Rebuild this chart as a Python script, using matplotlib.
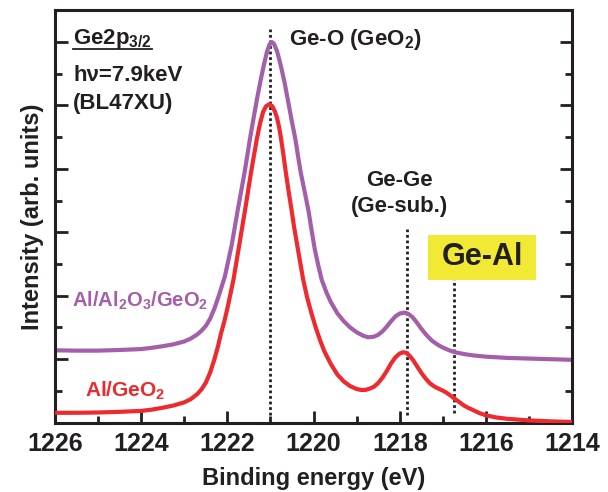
import matplotlib
matplotlib.use("Agg")
import matplotlib.pyplot as plt
from matplotlib.ticker import MultipleLocator
from matplotlib.patches import Rectangle

plt.rcParams['font.family'] = ['Liberation Sans', 'DejaVu Sans']
plt.rcParams['font.weight'] = 'bold'
plt.rcParams['axes.labelweight'] = 'bold'
plt.rcParams['mathtext.fontset'] = 'custom'
plt.rcParams['mathtext.rm'] = 'Liberation Sans:bold'
plt.rcParams['mathtext.default'] = 'rm'

# Al/Al2O3/GeO2 (purple) spectrum
e_purple = [1226.0, 1225.5, 1225.0, 1224.5, 1224.0, 1223.75, 1223.5, 1223.25, 1223.0,
            1222.85, 1222.7, 1222.6, 1222.5, 1222.4, 1222.3, 1222.2, 1222.13, 1222.06,
            1221.98, 1221.9, 1221.83, 1221.76, 1221.68, 1221.6, 1221.54, 1221.48, 1221.4,
            1221.3, 1221.22, 1221.15, 1221.08, 1221.02, 1220.97, 1220.92, 1220.85, 1220.79,
            1220.74, 1220.67, 1220.6, 1220.51, 1220.42, 1220.36, 1220.3, 1220.21, 1220.12,
            1220.05, 1219.97, 1219.89, 1219.81, 1219.7, 1219.6, 1219.45, 1219.3, 1219.15,
            1219.0, 1218.85, 1218.73, 1218.6, 1218.5, 1218.4, 1218.3, 1218.2, 1218.1,
            1218.0, 1217.88, 1217.8, 1217.7, 1217.6, 1217.5, 1217.38, 1217.25, 1217.1,
            1216.99, 1216.85, 1216.72, 1216.5, 1216.3, 1216.0, 1215.5, 1215.0, 1214.5,
            1214.0]
i_purple = [2.28, 2.27, 2.27, 2.29, 2.32, 2.36, 2.41, 2.47, 2.56,
            2.65, 2.78, 2.9, 3.05, 3.28, 3.6, 4.0, 4.3, 4.6,
            5.1, 5.6, 6.15, 6.7, 7.3, 7.9, 8.4, 8.92, 9.54,
            10.3, 10.85, 11.3, 11.7, 11.93, 12.0, 11.95, 11.72, 11.42,
            11.13, 10.7, 10.2, 9.54, 8.92, 8.4, 7.9, 7.3, 6.7,
            6.1, 5.45, 4.95, 4.5, 4.1, 3.8, 3.45, 3.2, 3.0,
            2.85, 2.74, 2.69, 2.71, 2.77, 2.88, 3.03, 3.2, 3.35,
            3.44, 3.47, 3.43, 3.32, 3.15, 2.96, 2.76, 2.58, 2.44,
            2.36, 2.28, 2.22, 2.16, 2.12, 2.08, 2.04, 2.02, 2.0,
            1.98]

# Al/GeO2 (red) spectrum
e_red = [1226.0, 1225.5, 1225.0, 1224.5, 1224.0, 1223.75, 1223.5, 1223.25, 1223.0,
         1222.85, 1222.7, 1222.6, 1222.5, 1222.4, 1222.3, 1222.22, 1222.15, 1222.07,
         1222.0, 1221.93, 1221.86, 1221.78, 1221.7, 1221.64, 1221.59, 1221.52, 1221.45,
         1221.38, 1221.32, 1221.24, 1221.17, 1221.1, 1221.03, 1220.96, 1220.9, 1220.85,
         1220.8, 1220.76, 1220.7, 1220.65, 1220.58, 1220.51, 1220.45, 1220.38, 1220.31,
         1220.24, 1220.15, 1220.05, 1219.95, 1219.85, 1219.75, 1219.6, 1219.45, 1219.3,
         1219.15, 1219.0, 1218.9, 1218.8, 1218.7, 1218.6, 1218.5, 1218.4, 1218.3,
         1218.2, 1218.1, 1218.0, 1217.92, 1217.85, 1217.78, 1217.69, 1217.6, 1217.5,
         1217.4, 1217.3, 1217.2, 1217.1, 1217.0, 1216.9, 1216.8, 1216.7, 1216.6,
         1216.5, 1216.4, 1216.29, 1216.15, 1216.0, 1215.75, 1215.5, 1215.0, 1214.5,
         1214.0]
i_red = [0.31, 0.31, 0.32, 0.34, 0.37, 0.41, 0.47, 0.54, 0.64,
         0.74, 0.9, 1.05, 1.26, 1.58, 2.0, 2.4, 2.8, 3.2,
         3.6, 4.05, 4.5, 5.15, 5.8, 6.3, 6.7, 7.3, 7.9,
         8.45, 8.92, 9.45, 9.8, 9.98, 10.04, 9.98, 9.82, 9.62,
         9.32, 9.0, 8.45, 7.95, 7.3, 6.7, 6.15, 5.6, 5.05,
         4.5, 3.95, 3.45, 3.0, 2.6, 2.25, 1.85, 1.52, 1.3,
         1.15, 1.06, 1.03, 1.03, 1.07, 1.13, 1.25, 1.42, 1.63,
         1.87, 2.06, 2.18, 2.22, 2.2, 2.12, 1.97, 1.78, 1.57,
         1.39, 1.24, 1.14, 1.07, 1.01, 0.93, 0.83, 0.73, 0.63,
         0.53, 0.46, 0.39, 0.3, 0.23, 0.16, 0.12, 0.07, 0.04,
         0.02]

# peak marker lines: position, top, bottom
peak_pos = [1221.0, 1217.83, 1216.75]
peak_top = [12.4, 6.1, 4.66]
peak_bot = [0.25, 0.25, 0.3]

purple = '#a45fab'
red = '#ee2a2e'
ink = '#231f20'

fig = plt.figure(figsize=(6.08, 4.92), dpi=100)
ax = fig.add_axes([0.0905, 0.141, 0.8505, 0.838])

for p, t, b in zip(peak_pos, peak_top, peak_bot):
    ax.plot([p, p], [b, t], color=ink, lw=2, linestyle=(0, (1, 1)), zorder=1)

ax.plot(e_purple, i_purple, color=purple, lw=3, solid_joinstyle='round',
        solid_capstyle='butt', zorder=2)
ax.plot(e_red, i_red, color=red, lw=3, solid_joinstyle='round',
        solid_capstyle='butt', zorder=3)

ax.set_xlim(1226, 1214)
ax.set_ylim(0, 13)
ax.xaxis.set_major_locator(MultipleLocator(2))
ax.xaxis.set_minor_locator(MultipleLocator(1))
ax.yaxis.set_major_locator(MultipleLocator(2))
ax.yaxis.set_minor_locator(MultipleLocator(1))
ax.tick_params(which='both', direction='in', width=2, colors=ink,
               left=True, right=True, top=False, labelleft=False)
ax.tick_params(which='major', length=9, labelsize=18, pad=7)
ax.tick_params(which='minor', length=5)
for s in ax.spines.values():
    s.set_linewidth(2.2)
    s.set_color(ink)

ax.set_xlabel('Binding energy (eV)', fontsize=17, color=ink, labelpad=8)
ax.set_ylabel('Intensity (arb. units)', fontsize=17, color=ink, labelpad=8)

# annotations
fs = 16
t1 = ax.text(1225.58, 12.09, r'Ge2p$\mathregular{_{3/2}}$', fontsize=fs, color=ink, va='center')
ax.text(1225.58, 10.96, 'h\u03bd=7.9keV', fontsize=fs, color=ink, va='center')
ax.text(1225.58, 10.07, '(BL47XU)', fontsize=fs, color=ink, va='center')
ax.text(1220.58, 12.09, r'Ge-O (GeO$_2$)', fontsize=fs, color=ink, va='center')
ax.text(1218.0, 7.65, 'Ge-Ge', fontsize=fs, color=ink, va='center', ha='center')
ax.text(1218.0, 6.8, '(Ge-sub.)', fontsize=fs, color=ink, va='center', ha='center')
ax.add_patch(Rectangle((1217.34, 4.5), -2.5, 1.42, fc='#f2e934', ec='none', zorder=4))
ax.text(1216.09, 5.21, 'Ge-Al', fontsize=22, color=ink, va='center', ha='center', zorder=5)
ax.text(1225.6, 3.83, r'Al/Al$_2$O$_3$/GeO$_2$', fontsize=14.5, color=purple, va='center')
ax.text(1225.3, 1.0, r'Al/GeO$_2$', fontsize=15, color=red, va='center')

# underline under Ge2p3/2
fig.canvas.draw()
bb = t1.get_window_extent().transformed(ax.transData.inverted())
ax.plot([bb.x0, bb.x1], [bb.y0 + 0.08, bb.y0 + 0.08], color=ink, lw=1.3)

fig.savefig('out.png', dpi=100)
